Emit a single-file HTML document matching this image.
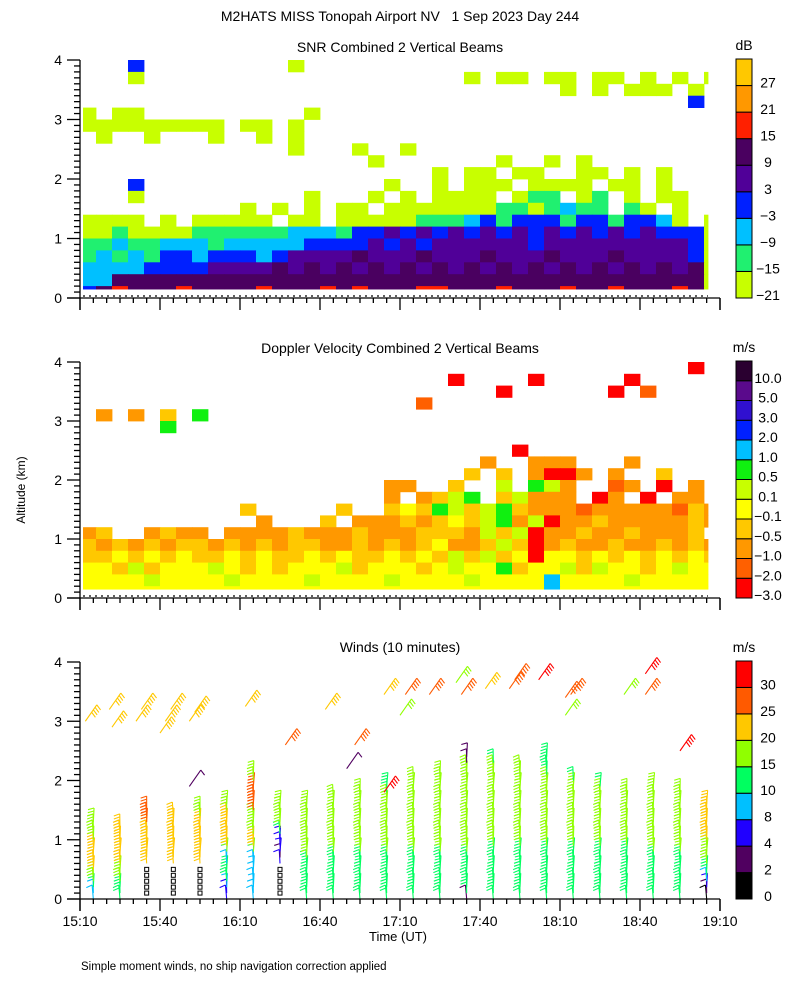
<!DOCTYPE html>
<html><head><meta charset="utf-8"><style>
html,body{margin:0;padding:0;background:#fff}
svg{display:block;font-family:"Liberation Sans",sans-serif}
</style></head><body>
<svg id="chart" width="800" height="1000" viewBox="0 0 800 1000" xmlns="http://www.w3.org/2000/svg">
<rect width="800" height="1000" fill="#fff"/>
<text x="400" y="21" font-size="14" text-anchor="middle" xml:space="preserve">M2HATS MISS Tonopah Airport NV   1 Sep 2023 Day 244</text>
<text x="400" y="52" font-size="14" text-anchor="middle">SNR Combined 2 Vertical Beams</text>
<text x="400" y="353" font-size="14" text-anchor="middle">Doppler Velocity Combined 2 Vertical Beams</text>
<text x="400" y="652" font-size="14" text-anchor="middle">Winds (10 minutes)</text>
<text x="0" y="0" font-size="12" text-anchor="middle" transform="translate(25,490) rotate(-90)">Altitude (km)</text>
<text x="398" y="941" font-size="13" text-anchor="middle">Time (UT)</text>
<text x="81" y="970" font-size="11.5">Simple moment winds, no ship navigation correction applied</text>
<g id="layer"></g>
</svg>
<script>
// ---- data ----
const timeTickLabels = ["15:10","15:40","16:10","16:40","17:10","17:40","18:10","18:40","19:10"];
const altTickLabels = ["0","1","2","3","4"];
const snrLegendLabels = ["-21","-15","-9","-3","3","9","15","21","27"];
const dopLegendLabels = ["-3.0","-2.0","-1.0","-0.5","-0.1","0.1","0.5","1.0","2.0","3.0","5.0","10.0"];
const windLegendLabels = ["0","2","4","8","10","15","20","25","30"];
// SNR grid: rows top (3.8-4.0 km) to bottom, 6-minute columns; chars = colour class
const snrGrid = [
"...3.........0..........................",
"...0....................0.00.00.00.0.0.0",
"..............................0.0.000.0.",
"......................................3.",
"0.00..........0.........................",
"000000000.00.0..........................",
".0..0...0..0.0..........................",
".............0...0..0...................",
"..................0.......0..0.0........",
"......................0.00.00..00.0.0...",
"...3...............0..0.000.0000.00.0...",
"...0..........0...0.0.0000.011.01.0.00..",
"..........0.0.0.00.00000001101211.10.0..",
"0000.0.00000.00.0000011123133313313320.0",
"0010000111111222133434343434343434343330",
"1121122212222233334343444444344444444430",
"1212133233323444454445444544454445444430",
"2222333344445454545454545454545454545450",
"2255555555555555555555555555555555555550",
"3565556555565556565556655565556556555650"
];
// Doppler grid (chars 0..9,a,b = colour class, bottom-up legend order)
const dopGrid = [
"......................................0.",
".......................0....0.....0.....",
"..........................0......0.1....",
".....................1..................",
".2.2.3.6................................",
".....6..................................",
"........................................",
"...........................0............",
".........................2..222...2.....",
"........................3.3.2002.2..3...",
"...................22..3..5.652..12.0.2.",
"...................2.2356.35222.02.0.22.",
"..........3.....3..3436535632221222221322",
"...........2...3.22232343562502232222232",
"23..2322.222232223222333253502232232223",
"3232323323232332232323422353023223223232",
"3343434334343343433434353534044343434343",
"4435344454343444534443454463445354434544",
"4444544445444454444544445444474444544444",
"4444444444444444444444444444474444444444"
];
// Winds: profile times (minutes after 15:10); speed class per 0.1 km gate from 0 km ('q' = missing marker)
const windTimes = [5,15,25,35,45,55,65,75,85,95,105,115,125,135,145,155,165,175,185,195,205,215,225,235];
const windProfiles = [
"33455666665555","4445556666666",".qqqqq6666666777",".qqqqq666666666",".qqqqq6666666655",
"22344433566666655","3333333356655557777755",".qqqqq21222455555","44444445555555555",
"444444445555555555","4444444455555555555","44444444555555555544","444444445555555555555",
"4444444455555555555555","1444444455555555555555511","444444444555555555555554",
"44444444455555555555555","4444444445555555555554444","444444444555555555554",
"44444444455555555554","4444444445555555555","44444444555555555555","4444444455555555555",
"01234455556666666"];
// Upper-level barbs: time (min), altitude (km), speed class
const upperTimes = [2,11,12,21,23,30,32,34,41,43,41,62,77,92,103,100,114,114,120,122,131,141,143,152,161,163,172,182,184,182,204,212,212,225];
const upperAlts  = [3.0,3.2,2.9,3.0,3.2,2.8,3.0,3.2,3.0,3.15,1.9,3.25,2.6,3.2,2.6,2.2,3.45,1.8,3.1,3.45,3.45,3.65,3.45,3.55,3.55,3.7,3.7,3.4,3.45,3.1,3.45,3.45,3.8,2.5];
const upperSpeed = [6,6,6,6,6,6,6,6,6,6,1,6,7,6,7,1,6,8,5,7,7,5,7,6,7,7,8,7,7,5,5,7,8,8];

// ---- drawing ----
const NS = "http://www.w3.org/2000/svg";
const layer = document.getElementById('layer');
const snrColors = ['#c8ff00','#20f070','#00c0ff','#0020ff','#500098','#4a0060','#ff2000','#ff9800','#ffc800'];
const dopColors = ['#ff0000','#ff6000','#ff9800','#ffc800','#ffff00','#c8ff00','#10f010','#00c0ff','#0020ff','#3010d0','#5a0a8c','#2a0030'];
const windColors = ['#000000','#500060','#2000ff','#00c0ff','#00ff60','#90ff00','#ffc800','#ff5a00','#ff0000'];
const panels = [{top:60,bot:298},{top:362,bot:598},{top:662,bot:899}];
function xs(min){return 80 + min*80/30;}
function ys(p,km){return p.bot - km*(p.bot-p.top)/4;}
function mk(tag,attrs,parent){const e=document.createElementNS(NS,tag);for(const k in attrs)e.setAttribute(k,attrs[k]);(parent||layer).appendChild(e);return e;}

function drawGrid(p,grid,colors,name){
  const g=mk('g',{});
  
  
  grid.forEach((row,r)=>{
    const kmTop=4-0.2*r, kmBot=Math.max(0.15,4-0.2*(r+1));
    for(let c=0;c<40;c++){
      const ch=row.charAt(c); if(!ch||ch==='.') continue;
      const idx=parseInt(ch,16); if(isNaN(idx)||!colors[idx]) continue;
      const x0=Math.max(83,xs(c*6)), x1=Math.min(708,xs((c+1)*6));
      if(x1<=x0) continue;
      const cell=mk('rect',{x:x0,y:ys(p,kmTop),width:x1-x0+0.4,height:ys(p,kmBot)-ys(p,kmTop)+0.4,fill:colors[idx]},g);
      
      
    }
  });
}
function drawAxes(p,i,labels){
  const g=mk('g',{stroke:'#000','stroke-width':1.3,fill:'none'});
  
  
  mk('line',{x1:80,y1:p.top,x2:80,y2:p.bot+12},g);
  mk('line',{x1:67,y1:p.bot,x2:720,y2:p.bot},g);
  mk('line',{x1:720,y1:p.bot,x2:720,y2:p.bot+12},g);
  for(let k=0;k<=40;k++){const y=ys(p,k/10);mk('line',{x1:k%10===0?67:74,y1:y,x2:80,y2:y},g);}
  for(let m=0;m<=240;m+=5){const x=xs(m);mk('line',{x1:x,y1:p.bot,x2:x,y2:p.bot+(m%30===0?12:5)},g);}
  altTickLabels.forEach((t,k)=>{const tx=mk('text',{x:62,y:ys(p,+t)+5,'font-size':14,'text-anchor':'end',fill:'#000',stroke:'none'});tx.textContent=t;
    
    });
  if(i<2){const d=mk('line',{x1:83,y1:p.bot-2,x2:708,y2:p.bot-2,'stroke-dasharray':'2,4','stroke-width':1.2},g);
    
    }
  if(labels){timeTickLabels.forEach((t,k)=>{const tx=mk('text',{x:xs(k*30),y:p.bot+27,'font-size':14,'text-anchor':'middle',fill:'#000',stroke:'none'});tx.textContent=t;
    
    });}
}
function drawLegend(p,colors,labels,unit,name){
  const g=mk('g',{});
  
  
  const top=p.top-1, bot=p.bot, n=colors.length, h=(bot-top)/n;
  colors.forEach((c,k)=>{const r=mk('rect',{x:736,y:bot-(k+1)*h,width:16,height:h,fill:c,stroke:'#000','stroke-width':1},g);
    
    });
  labels.forEach((t,k)=>{const tx=mk('text',{x:768,y:bot-k*h+2,'font-size':14,'text-anchor':'middle'},g);tx.textContent=t.replace('-','\u2212');
    
    });
  const u=mk('text',{x:744,y:p.top-10,'font-size':14,'text-anchor':'middle'},g);u.textContent=unit;
  
  
}
function barb(g,x,y,angDeg,len,cls,featherSide){
  const col=windColors[cls]; const a=angDeg*Math.PI/180;
  const dx=Math.sin(a), dy=-Math.cos(a);
  const ex=x+dx*len, ey=y+dy*len;
  const path=['M',x,y,'L',ex,ey];
  const nf=Math.max(1,Math.min(4,cls-2));
  for(let f=0;f<nf;f++){
    const bx=ex-dx*f*3, by=ey-dy*f*3;
    const fx=featherSide*(-dy)*6 - dx*2, fy=featherSide*dx*6 - dy*2;
    path.push('M',bx,by,'L',bx+fx,by+fy);
  }
  const e=mk('path',{d:path.join(' '),stroke:col,'stroke-width':1.1,fill:'none'},g);
  
  
}
function drawWinds(p){
  const g=mk('g',{});
  
  
  windTimes.forEach((t,i)=>{
    const prof=windProfiles[i]; const x=xs(t);
    for(let k=0;k<prof.length;k++){
      const ch=prof.charAt(k); if(ch==='.') continue;
      const y=ys(p,k*0.1);
      if(ch==='q'){const s=mk('rect',{x:x-2,y:y-2,width:4,height:4,fill:'none',stroke:'#000','stroke-width':1},g);
        
         continue;}
      barb(g,x,y,((k*37)%11-5),14,+ch,-1);
    }
  });
  upperTimes.forEach((t,i)=>{
    barb(g,xs(t),ys(p,upperAlts[i]),35,20,upperSpeed[i],1);
  });
}
drawGrid(panels[0],snrGrid,snrColors,'snr-heatmap');
drawGrid(panels[1],dopGrid,dopColors,'doppler-heatmap');
drawWinds(panels[2]);
panels.forEach((p,i)=>drawAxes(p,i,i===2));
drawLegend(panels[0],snrColors,snrLegendLabels,'dB','snr-colorbar');
drawLegend(panels[1],dopColors,dopLegendLabels,'m/s','doppler-colorbar');
drawLegend(panels[2],windColors,windLegendLabels,'m/s','wind-colorbar');
</script>
</body></html>
